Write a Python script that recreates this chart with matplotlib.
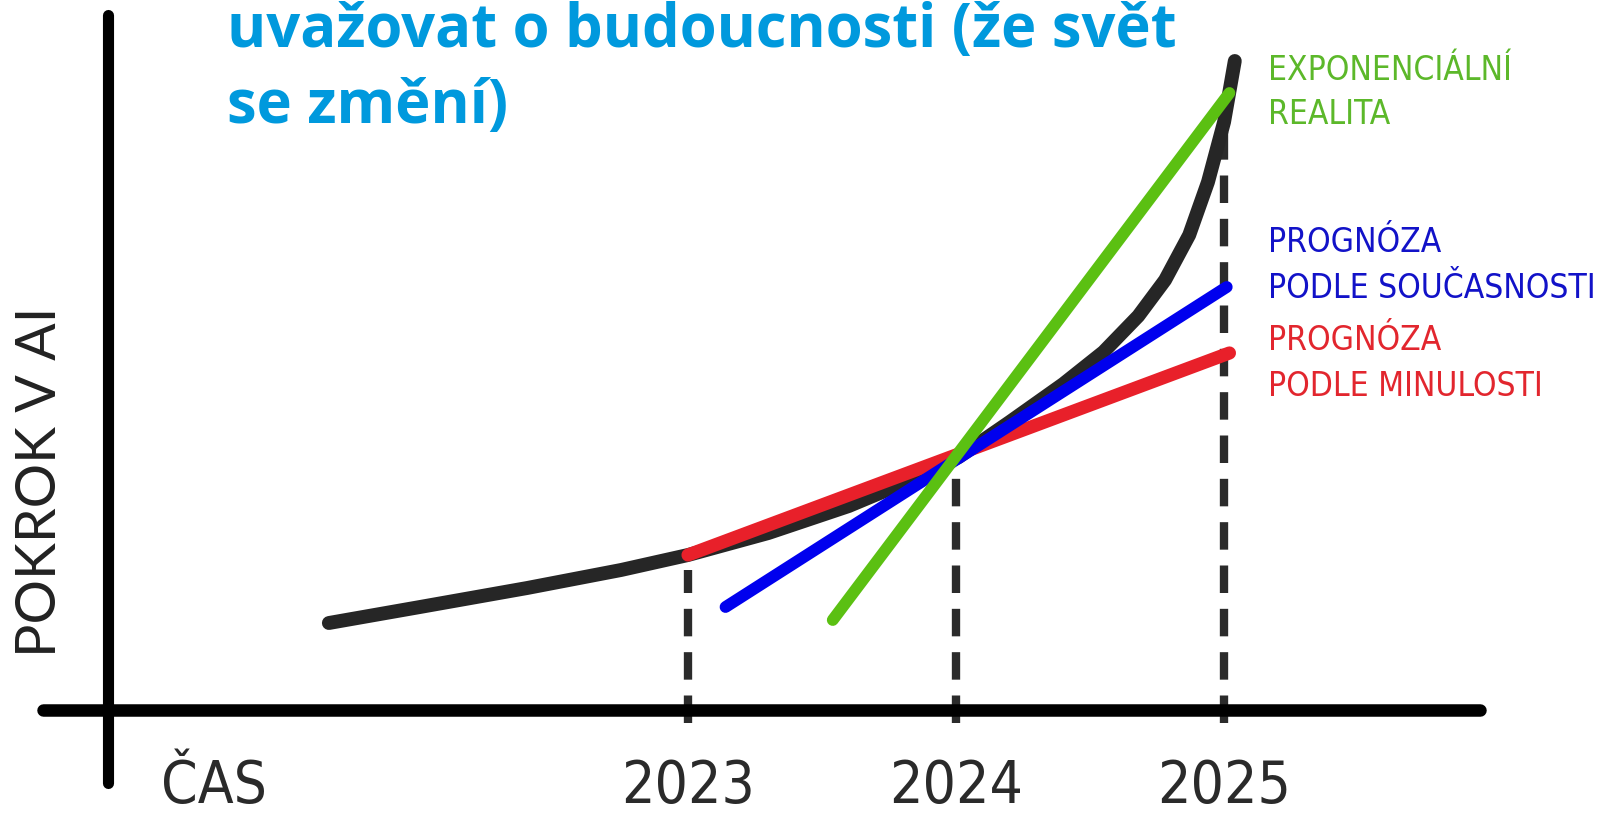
import matplotlib.pyplot as plt
from matplotlib import font_manager as fm

# --- values (x = year, y = "progress", arbitrary units) ---
real_x = [2021.66, 2022.00, 2022.40, 2022.75, 2023.00, 2023.30, 2023.60, 2023.85,
          2024.01, 2024.20, 2024.40, 2024.55, 2024.68, 2024.78, 2024.87, 2024.94,
          2025.00, 2025.04]
real_y = [8.7, 10.3, 12.2, 14.0, 15.5, 17.7, 20.4, 23.2,
          25.3, 28.8, 32.6, 35.8, 39.4, 43.0, 47.5, 52.8,
          58.8, 64.9]

past_x = [2023.00, 2025.02]      # forecast from the past trend
past_y = [15.5, 35.7]
present_x = [2023.14, 2025.01]   # forecast from the present slope
present_y = [10.3, 42.3]
expo_x = [2023.54, 2025.02]      # exponential reality
expo_y = [9.0, 61.7]

years = [2023, 2024, 2025]
year_labels = ["2023", "2024", "2025"]
drop_tops = [14.0, 25.0, 59.0]   # where the dashed drop lines start

title_lines = ["uvažovat o budoucnosti (že svět", "se změní)"]
label_lines = ["EXPONENCIÁLNÍ", "REALITA",
               "PROGNÓZA", "PODLE SOUČASNOSTI",
               "PROGNÓZA", "PODLE MINULOSTI"]
label_colors = ["#5cb82a", "#5cb82a", "#1212c8", "#1212c8", "#e2262e", "#e2262e"]
label_y = [64.0, 59.5, 46.7, 42.1, 37.0, 32.3]   # layout only

# --- colours / fonts ---
BLACK = "#262626"
RED = "#e8202a"
BLUE = "#0000ee"
GREEN = "#5bc012"
TITLE_BLUE = "#0099dd"

# the sketch uses a narrow hand-lettered font; use a condensed face if there is one
HAND = "Roboto"
for fam in ["DejaVu Sans", "Noto Sans"]:
    path = fm.findfont(fm.FontProperties(family=fam, stretch="condensed"),
                       fallback_to_default=False)
    if "Condensed" in path:
        HAND = fam
        break
STRETCH = "normal" if HAND == "Roboto" else "condensed"

fig = plt.figure(figsize=(16.06, 8.14), dpi=100)
ax = fig.add_axes([0, 0, 1, 1])
ax.set_xlim(2020.433, 2026.425)
ax.set_ylim(-10.4, 71.0)
ax.axis("off")

# hand drawn axes
ax.axhline(0, xmin=43 / 1606, xmax=1480 / 1606, lw=9, color="black",
           solid_capstyle="round", zorder=2)
ax.axvline(2020.836, ymin=31 / 814, ymax=799 / 814, lw=8, color="black",
           solid_capstyle="round", zorder=2)

# dashed drop lines from the curve down to each year
ax.vlines(years, -1.3, drop_tops, colors="#2b2b2b", lw=6,
          linestyles=(0, (3.3, 1.9)), zorder=1)

# the curve and the three forecasts
ax.plot(real_x, real_y, color=BLACK, lw=10, solid_capstyle="round",
        solid_joinstyle="round", zorder=3)
ax.plot(past_x, past_y, color=RED, lw=9.5, solid_capstyle="round", zorder=4)
ax.plot(present_x, present_y, color=BLUE, lw=8.5, solid_capstyle="round", zorder=5)
ax.plot(expo_x, expo_y, color=GREEN, lw=8.5, solid_capstyle="round", zorder=6)

# year labels + time label
for yr, lab in zip(years, year_labels):
    ax.text(yr, -7.6, lab, ha="center", va="center", fontsize=42,
            family=HAND, stretch=STRETCH, color="#2a2a2a")
ax.text(2021.23, -7.6, "ČAS", ha="center", va="center", fontsize=42,
        family=HAND, stretch=STRETCH, color="#2a2a2a")

# y label
ax.text(41 / 1606, 1 - 482 / 814, "POKROK V AI", transform=fig.transFigure,
        rotation=90, ha="center", va="center", fontsize=40, family="Lato",
        color="#222222")

# legend-like labels on the right
for txt, yv, col in zip(label_lines, label_y, label_colors):
    ax.text(2025.164, yv, txt, ha="left", va="center", fontsize=24,
            family=HAND, stretch=STRETCH, color=col)

# title (first line is cut off by the top edge, as in the original)
ax.text(227 / 1606, 1 - 47 / 814, title_lines[0], transform=fig.transFigure,
        ha="left", va="baseline", fontsize=43, family="Open Sans",
        weight="bold", color=TITLE_BLUE)
ax.text(227 / 1606, 1 - 123 / 814, title_lines[1], transform=fig.transFigure,
        ha="left", va="baseline", fontsize=43, family="Open Sans",
        weight="bold", color=TITLE_BLUE)

fig.savefig("out.png", dpi=100)
